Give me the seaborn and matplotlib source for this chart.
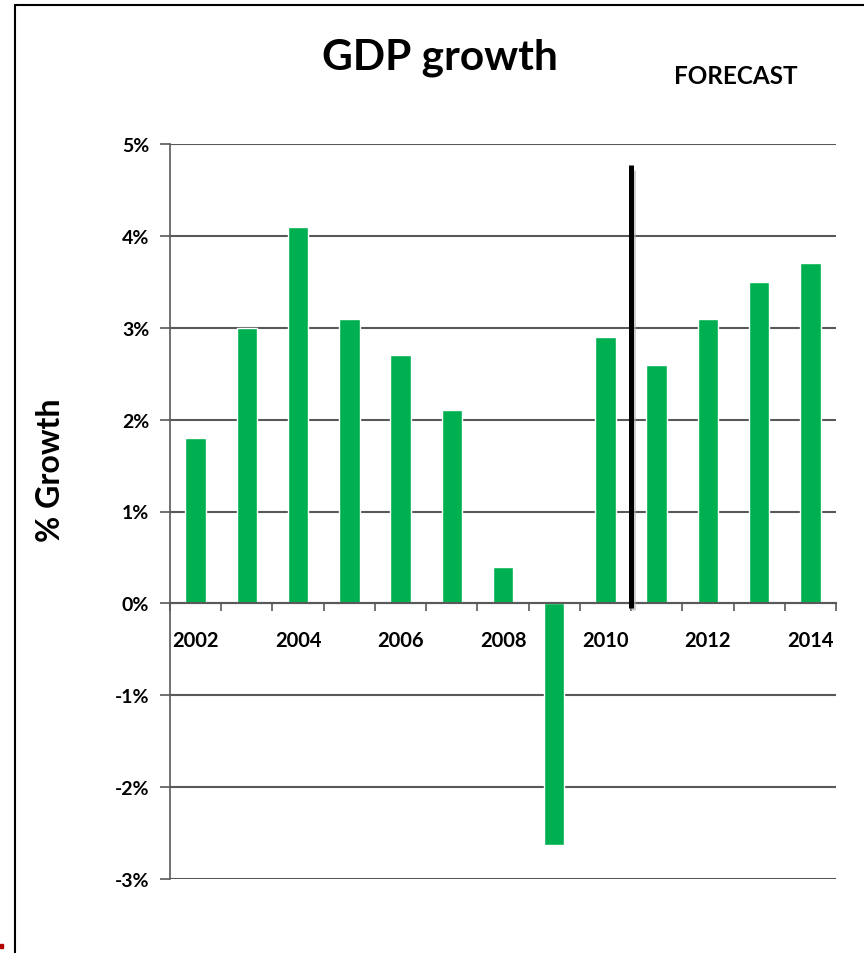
import matplotlib
matplotlib.use("Agg")
import matplotlib.pyplot as plt
import seaborn as sns
import pandas as pd
from matplotlib.patches import Rectangle
from matplotlib.ticker import FuncFormatter, FixedLocator

# --------------------------------------------------------------
# Data
# --------------------------------------------------------------
years = ["2002", "2003", "2004", "2005", "2006", "2007", "2008",
         "2009", "2010", "2011", "2012", "2013", "2014"]
growth = [1.8, 3.0, 4.1, 3.1, 2.7, 2.1, 0.4, -2.63, 2.9, 2.6, 3.1, 3.5, 3.7]
shown_labels = ["2002", "2004", "2006", "2008", "2010", "2012", "2014"]
forecast_start = "2011"

df = pd.DataFrame({"year": years, "growth": growth})

sns.set_style("white")
plt.rcParams["font.family"] = ["Lato", "DejaVu Sans"]
plt.rcParams["text.color"] = "black"
plt.rcParams["xtick.color"] = "black"
plt.rcParams["ytick.color"] = "black"
plt.rcParams["axes.labelcolor"] = "black"

fig = plt.figure(figsize=(8.64, 9.54), dpi=100)
ax = fig.add_axes([170 / 864, 1 - 880 / 954, (836 - 170) / 864, (880 - 145) / 954])

sns.barplot(data=df, x="year", y="growth", color="#00b050", width=0.4,
            saturation=1, ax=ax)

ax.set_xlim(-0.5, len(years) - 0.5)
ax.set_ylim(-3, 5)

# y axis
ax.set_yticks(range(-3, 6))
ax.yaxis.set_major_formatter(FuncFormatter(lambda v, p: f"{v:.0f}%"))
ax.yaxis.grid(True, color="#595959", linewidth=1.5)
ax.set_axisbelow(True)
ax.tick_params(axis="y", left=True, length=7, width=1.2, color="#595959",
               labelsize=14, pad=8)
for lab in ax.get_yticklabels():
    lab.set_fontweight("bold")

# x axis crossing at zero
ax.spines["bottom"].set_position(("data", 0))
ax.spines["bottom"].set_color("#595959")
ax.spines["bottom"].set_linewidth(1.5)
ax.spines["left"].set_color("#595959")
ax.spines["left"].set_linewidth(1.2)
ax.spines["top"].set_visible(False)
ax.spines["right"].set_visible(False)

ax.set_xticks(range(len(years)))
ax.set_xticklabels([y if y in shown_labels else "" for y in years],
                   fontsize=14.5, fontweight="bold")
ax.tick_params(axis="x", which="major", length=0, pad=19)
ax.xaxis.set_minor_locator(FixedLocator([i + 0.5 for i in range(-1, len(years))]))
ax.tick_params(axis="x", which="minor", bottom=True, length=6, width=1.2,
               color="#595959", direction="out")

ax.set_xlabel("")
ax.set_ylabel("")
fig.text(50 / 864, 1 - 470 / 954, "% Growth", rotation=90, ha="center",
         va="center", fontsize=23, fontweight="bold")

# forecast divider
split = years.index(forecast_start) - 0.5
ax.vlines(split + 0.04, -0.07, 4.72, color="#b0b0b0", linewidth=3.6, alpha=0.6, zorder=4)
ax.vlines(split, -0.05, 4.77, color="black", linewidth=3.6, zorder=5)

fig.text(440 / 864, 1 - 58 / 954, "GDP growth", ha="center", va="center",
         fontsize=30.5, fontweight="bold")
fig.text(736 / 864, 1 - 76 / 954, "FORECAST", ha="center", va="center",
         fontsize=17.5, fontweight="bold")

# outer frame
fig.patches.append(Rectangle((15 / 864, -0.1), 1.2, 1.1 - 6 / 954,
                             transform=fig.transFigure, fill=False,
                             edgecolor="black", linewidth=1.5))
fig.patches.append(Rectangle((0, 1 - 949 / 954), 3 / 864, 4 / 954,
                             transform=fig.transFigure, color="#b00000"))

fig.savefig("out.png", dpi=100)
